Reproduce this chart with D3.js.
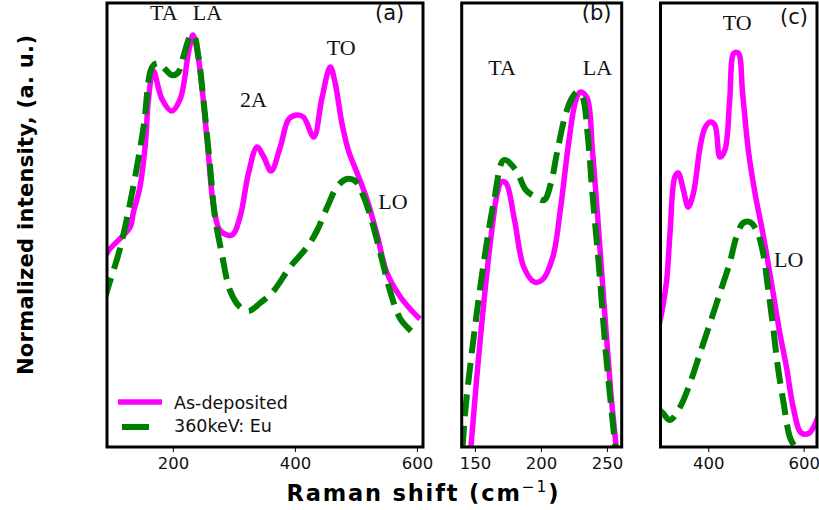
<!DOCTYPE html>
<html>
<head>
<meta charset="utf-8">
<script src="https://cdn.jsdelivr.net/npm/d3@7"></script>
<style>
  html, body { margin: 0; padding: 0; background: #fff; }
  svg { display: block; }
</style>
</head>
<body>
<svg id="chart" width="819" height="510"></svg>
<script>
// Raman spectra: as-deposited film vs. 360 keV Eu implanted film
// Panel (a): full range
const shiftA_dep = [88, 94, 130, 135, 146, 155, 160, 168, 182, 198, 212, 226, 233, 242, 256, 267, 278, 297, 310, 324, 338, 349, 361, 376, 390, 403, 414, 431, 444, 458, 466, 477, 488, 502, 518, 534, 551, 573, 592, 605];
const intA_dep   = [0.47, 0.49, 0.55, 0.585, 0.65, 0.76, 0.87, 0.94, 0.87, 0.84, 0.87, 0.99, 1.03, 0.97, 0.77, 0.60, 0.54, 0.53, 0.575, 0.685, 0.75, 0.725, 0.69, 0.75, 0.82, 0.83, 0.825, 0.775, 0.87, 0.95, 0.91, 0.81, 0.74, 0.685, 0.62, 0.535, 0.435, 0.375, 0.34, 0.32];
const shiftA_eu  = [88, 94, 114, 135, 152, 166, 176, 187, 198, 208, 217, 228, 234, 242, 250, 261, 269, 280, 294, 310, 324, 343, 365, 392, 420, 436, 453, 469, 485, 499, 513, 526, 540, 556, 573, 594];
const intA_eu    = [0.37, 0.40, 0.50, 0.65, 0.80, 0.95, 0.96, 0.945, 0.93, 0.935, 0.975, 1.025, 1.03, 0.975, 0.87, 0.70, 0.575, 0.485, 0.39, 0.35, 0.34, 0.36, 0.39, 0.45, 0.50, 0.54, 0.60, 0.65, 0.67, 0.665, 0.625, 0.565, 0.485, 0.39, 0.32, 0.285];

// Panel (b): acoustic region
const shiftB_dep = [145, 147, 154.5, 162, 167, 170, 173.5, 180, 187, 195, 201, 209, 215, 221, 226.5, 230, 235, 239, 243, 248, 253, 257, 260];
const intB_dep   = [-0.1, 0, 0.285, 0.52, 0.635, 0.6625, 0.66, 0.5675, 0.45, 0.4125, 0.4175, 0.475, 0.60, 0.76, 0.8675, 0.8875, 0.8725, 0.7425, 0.575, 0.35, 0.135, 0, -0.1];
const shiftB_eu  = [138, 140.6, 143, 149.5, 157, 164.6, 172, 181, 188.6, 196, 202.5, 207.6, 212.6, 219, 224, 227.7, 231.5, 235.3, 239, 244, 249, 254, 256.3, 258];
const intB_eu    = [-0.08, 0, 0.10, 0.285, 0.4675, 0.6175, 0.7175, 0.6925, 0.6425, 0.625, 0.6175, 0.66, 0.7425, 0.835, 0.875, 0.8875, 0.875, 0.785, 0.635, 0.45, 0.2425, 0.075, 0, -0.05];

// Panel (c): optical region
const shiftC_dep = [296, 304.7, 313, 320, 330, 337, 348, 358, 369, 383, 393, 404, 414, 424.5, 435, 445, 454, 463, 472, 484, 498, 512, 522, 536, 550, 564, 578, 595, 612, 625, 632];
const intC_dep   = [0.30, 0.35, 0.4175, 0.535, 0.675, 0.685, 0.6425, 0.60, 0.635, 0.75, 0.7975, 0.8125, 0.805, 0.725, 0.7425, 0.8675, 0.985, 0.985, 0.885, 0.7425, 0.635, 0.55, 0.485, 0.385, 0.285, 0.20, 0.10, 0.035, 0.035, 0.06, 0.08];
const shiftC_eu  = [296, 304.7, 320, 341, 362, 383, 404, 424.5, 445, 459, 473, 487, 501, 515, 525, 536, 546, 557, 571, 581, 590];
const intC_eu    = [0.095, 0.085, 0.0675, 0.10, 0.16, 0.235, 0.31, 0.385, 0.46, 0.525, 0.56, 0.5625, 0.5425, 0.485, 0.40, 0.30, 0.20, 0.1175, 0.025, 0, -0.04];

// Axis ticks and labels
const ticksA = [200, 400, 600];
const ticksB = [150, 200, 250];
const ticksC = [400, 600];
const seriesNames = ["As-deposited", "360keV: Eu"];
const seriesColors = ["#ff00ff", "#008000"];

const svg = d3.select("#chart");
const plotTop = 3, plotBottom = 447;
const y = d3.scaleLinear().domain([0, 1.11]).range([plotBottom, plotTop]);

const panels = [
  { id: "a", left: 107, right: 423, domain: [92, 610], ticks: ticksA,
    dep: [shiftA_dep, intA_dep], eu: [shiftA_eu, intA_eu] },
  { id: "b", left: 461.7, right: 621.7, domain: [140, 261.2], ticks: ticksB,
    dep: [shiftB_dep, intB_dep], eu: [shiftB_eu, intB_eu] },
  { id: "c", left: 660.5, right: 817, domain: [300, 628], ticks: ticksC,
    dep: [shiftC_dep, intC_dep], eu: [shiftC_eu, intC_eu] }
];

const defs = svg.append("defs");

panels.forEach(p => {
  const x = d3.scaleLinear().domain(p.domain).range([p.left, p.right]);
  defs.append("clipPath").attr("id", "clip-" + p.id)
    .append("rect")
    .attr("x", p.left).attr("y", plotTop)
    .attr("width", p.right - p.left).attr("height", plotBottom - plotTop);

  const g = svg.append("g");
  const line = d3.line()
    .x(d => x(d[0])).y(d => y(d[1]))
    .curve(d3.curveCatmullRom.alpha(0.5));

  const plot = g.append("g").attr("clip-path", "url(#clip-" + p.id + ")");
  plot.append("path")
    .datum(d3.zip(p.dep[0], p.dep[1]))
    .attr("d", line)
    .attr("fill", "none")
    .attr("stroke", seriesColors[0])
    .attr("stroke-width", 5.5)
    .attr("stroke-linejoin", "round")
    .attr("stroke-linecap", "butt");
  plot.append("path")
    .datum(d3.zip(p.eu[0], p.eu[1]))
    .attr("d", line)
    .attr("fill", "none")
    .attr("stroke", seriesColors[1])
    .attr("stroke-width", 6)
    .attr("stroke-dasharray", "22 9.6")
    .attr("stroke-linecap", "butt");

  // bottom axis
  const axis = d3.axisBottom(x).tickValues(p.ticks).tickSize(5).tickPadding(5);
  const ax = g.append("g").attr("transform", `translate(0,${plotBottom})`).call(axis);
  ax.select(".domain").remove();
  ax.selectAll(".tick line").attr("stroke", "#000").attr("stroke-width", 1);
  ax.selectAll(".tick text")
    .attr("font-family", "DejaVu Sans")
    .attr("font-size", 16.5)
    .attr("fill", "#111")
    .attr("dy", "0.71em");

  // frame
  g.append("rect")
    .attr("x", p.left).attr("y", plotTop)
    .attr("width", p.right - p.left).attr("height", plotBottom - plotTop)
    .attr("fill", "none").attr("stroke", "#000").attr("stroke-width", 3);
});

// phonon mode annotations
const notes = [
  { t: "TA", x: 150, y: 20 },
  { t: "LA", x: 192.7, y: 20 },
  { t: "2A", x: 240, y: 106.7 },
  { t: "TO", x: 326.7, y: 55 },
  { t: "LO", x: 378.3, y: 209 },
  { t: "TA", x: 488.3, y: 75 },
  { t: "LA", x: 582.7, y: 75 },
  { t: "TO", x: 722.7, y: 30 },
  { t: "LO", x: 774, y: 266.7 }
];
svg.append("g").selectAll("text").data(notes).join("text")
  .attr("x", d => d.x).attr("y", d => d.y)
  .attr("font-family", "Liberation Serif, Times New Roman, serif")
  .attr("font-size", 22)
  .attr("fill", "#111")
  .text(d => d.t);

// panel letters
const letters = [
  { t: "(a)", x: 375, y: 19.5 },
  { t: "(b)", x: 581.7, y: 19.5 },
  { t: "(c)", x: 780, y: 24 }
];
svg.append("g").selectAll("text").data(letters).join("text")
  .attr("x", d => d.x).attr("y", d => d.y)
  .attr("font-family", "DejaVu Sans")
  .attr("font-size", 21)
  .attr("fill", "#111")
  .text(d => d.t);

// legend
const leg = svg.append("g");
leg.append("line").attr("x1", 118).attr("x2", 162).attr("y1", 402).attr("y2", 402)
  .attr("stroke", seriesColors[0]).attr("stroke-width", 5.5);
leg.append("line").attr("x1", 122).attr("x2", 149).attr("y1", 427).attr("y2", 427)
  .attr("stroke", seriesColors[1]).attr("stroke-width", 6);
leg.selectAll("text").data(seriesNames).join("text")
  .attr("x", 174).attr("y", (d, i) => 409 + i * 23)
  .attr("font-family", "DejaVu Sans")
  .attr("font-size", 17.5)
  .attr("fill", "#111")
  .text(d => d);

// axis titles
const xt = svg.append("text")
  .attr("x", 422.5).attr("y", 500.7)
  .attr("text-anchor", "middle")
  .attr("font-family", "DejaVu Sans")
  .attr("font-weight", "bold")
  .attr("font-size", 22.5)
  .attr("fill", "#000")
  .attr("textLength", 272)
  .attr("lengthAdjust", "spacing");
xt.append("tspan").text("Raman shift (cm");
xt.append("tspan").attr("font-size", 15.5).attr("font-weight", "normal").attr("dy", -9).text("−1");
xt.append("tspan").attr("dy", 9).text(")");

svg.append("text")
  .attr("transform", "translate(33,205) rotate(-90)")
  .attr("text-anchor", "middle")
  .attr("font-family", "DejaVu Sans")
  .attr("font-weight", "bold")
  .attr("font-size", 21)
  .attr("fill", "#000")
  .attr("textLength", 340)
  .attr("lengthAdjust", "spacing")
  .text("Normalized intensity, (a. u.)");
</script>
</body>
</html>
